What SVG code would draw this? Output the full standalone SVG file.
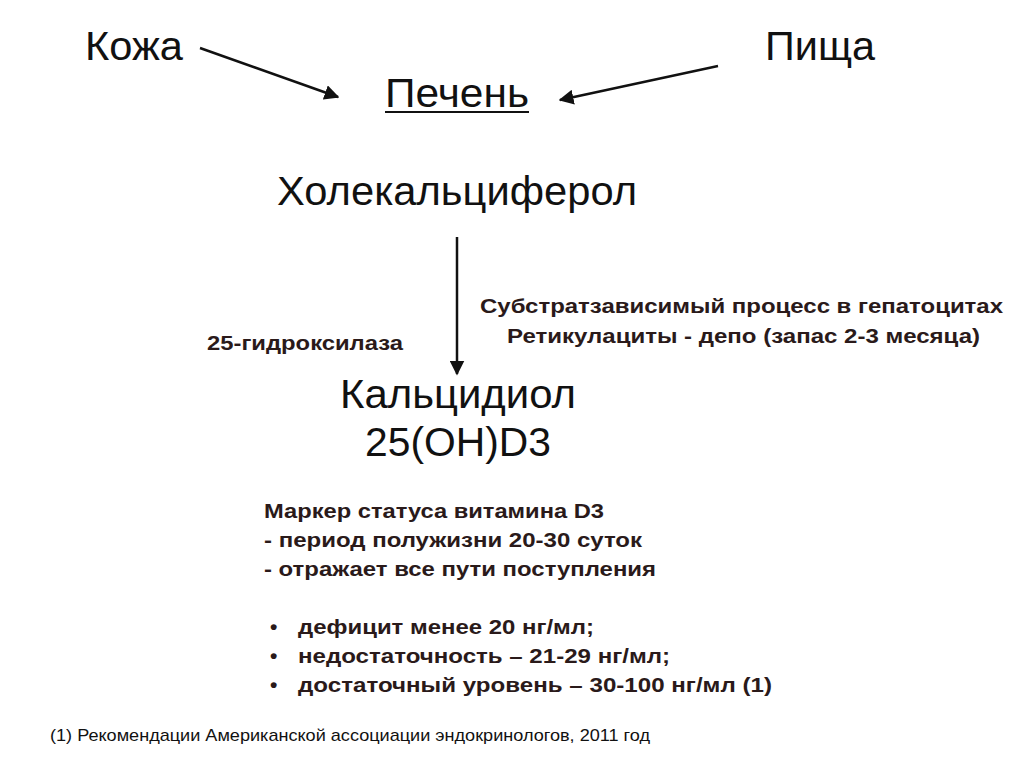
<svg xmlns="http://www.w3.org/2000/svg" width="1024" height="768" viewBox="0 0 1024 768">
<style>
.big{font-family:"Liberation Sans",Arial,sans-serif;font-size:41px;fill:#111}
.b{font-family:"Liberation Sans",Arial,sans-serif;font-size:21px;font-weight:bold;fill:#2a1a1a}
.f{font-family:"Liberation Sans",Arial,sans-serif;font-size:17px;fill:#111}
.c{stroke:#111;stroke-width:2.5;fill:none}
</style>
<defs><marker id="ah" viewBox="0 0 10 10" refX="9" refY="5" markerWidth="6" markerHeight="6" orient="auto"><path d="M0,0 L10,5 L0,10 z" fill="#111"/></marker></defs>
<rect width="1024" height="768" fill="#fff"/>
<g id="connectors">
<line class="c" x1="200" y1="48" x2="338" y2="97" marker-end="url(#ah)"/>
<line class="c" x1="718" y1="66" x2="560" y2="100" marker-end="url(#ah)"/>
<line class="c" x1="457" y1="237" x2="457" y2="374" marker-end="url(#ah)"/>
</g>
<g id="skin"><text class="big" x="85" y="60" textLength="98" lengthAdjust="spacingAndGlyphs">Кожа</text></g>
<g id="food"><text class="big" x="765" y="60" textLength="110" lengthAdjust="spacingAndGlyphs">Пища</text></g>
<g id="liver"><text class="big" x="385" y="107" textLength="144" lengthAdjust="spacingAndGlyphs">Печень</text><line x1="385" y1="112" x2="529" y2="112" stroke="#111" stroke-width="2"/></g>
<g id="chole"><text class="big" x="277" y="205" textLength="360" lengthAdjust="spacingAndGlyphs">Холекальциферол</text></g>
<g id="enzyme"><text class="b" x="207" y="350" textLength="196" lengthAdjust="spacingAndGlyphs">25-гидроксилаза</text></g>
<g id="process"><text class="b" x="480" y="313" textLength="523" lengthAdjust="spacingAndGlyphs">Субстратзависимый процесс в гепатоцитах</text><text class="b" x="507" y="343" textLength="473" lengthAdjust="spacingAndGlyphs">Ретикулациты - депо (запас 2-3 месяца)</text></g>
<g id="calcidiol"><text class="big" x="340" y="408" textLength="236" lengthAdjust="spacingAndGlyphs">Кальцидиол</text><text class="big" x="365" y="456" textLength="186" lengthAdjust="spacingAndGlyphs">25(OH)D3</text></g>
<g id="marker"><text class="b" x="264" y="518" textLength="340" lengthAdjust="spacingAndGlyphs">Маркер статуса витамина D3</text><text class="b" x="264" y="547" textLength="378" lengthAdjust="spacingAndGlyphs">- период полужизни 20-30 суток</text><text class="b" x="264" y="576" textLength="392" lengthAdjust="spacingAndGlyphs">- отражает все пути поступления</text></g>
<g id="levels">
<text class="b" x="270" y="634">•</text><text class="b" x="298" y="634" textLength="296" lengthAdjust="spacingAndGlyphs">дефицит менее 20 нг/мл;</text>
<text class="b" x="270" y="663">•</text><text class="b" x="298" y="663" textLength="372" lengthAdjust="spacingAndGlyphs">недостаточность – 21-29 нг/мл;</text>
<text class="b" x="270" y="692">•</text><text class="b" x="298" y="692" textLength="474" lengthAdjust="spacingAndGlyphs">достаточный уровень – 30-100 нг/мл (1)</text>
</g>
<g id="footnote"><text class="f" x="50" y="741" textLength="600" lengthAdjust="spacingAndGlyphs">(1) Рекомендации Американской ассоциации эндокринологов, 2011 год</text></g>
</svg>
